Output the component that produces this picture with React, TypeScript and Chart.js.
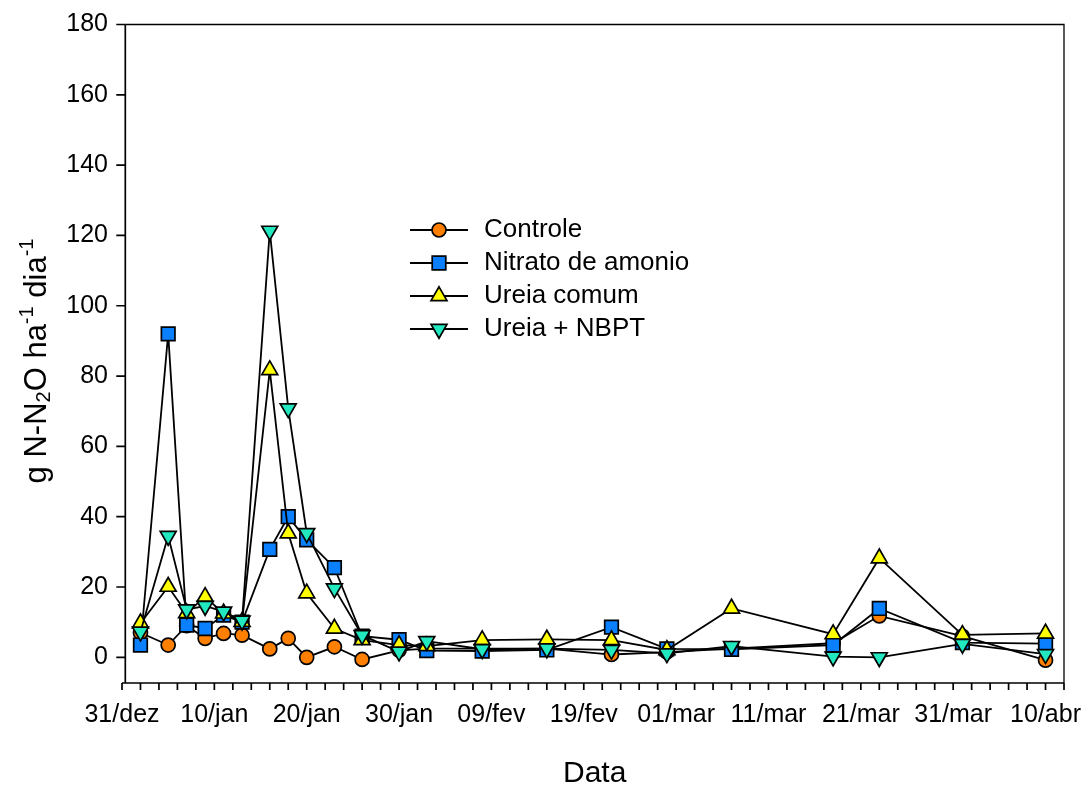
import React, { useEffect, useRef } from 'react';
import { Chart, registerables } from 'chart.js';
import { drawPoint } from 'chart.js/helpers';

Chart.register(...registerables);

const FONT = "'Liberation Sans', Arial, Helvetica, sans-serif";

// Days since 31/dez
const days = [2, 5, 7, 9, 11, 13, 16, 18, 20, 23, 26, 30, 33, 39, 46, 53, 59, 66, 77, 82, 91, 100];
const controle = [7, 3.5, 9, 5.4, 6.8, 6.3, 2.4, 5.4, 0, 3, -0.6, 2, 2.5, 2.5, 2.5, 0.8, 1.5, 2.5, 4, 11.8, 6, -0.8];
const nitrato = [3.5, 92, 9.2, 8.2, 12, 10, 30.7, 40, 33.4, 25.5, 6, 5, 1.9, 1.8, 2.1, 8.6, 2.4, 2.3, 3.5, 13.9, 4.2, 3.9];
const ureia = [9.7, 20.1, 12.6, 17.2, 12.5, 10.1, 81.7, 35.3, 18.2, 8.2, 4.9, 3.5, 3.2, 4.9, 5.1, 4.9, 2.1, 13.9, 6.6, 28.2, 6.4, 6.8];
const nbpt = [7.3, 34.5, 13.6, 14.6, 13, 10.4, 121.3, 70.8, 35.3, 19.6, 6.3, 1.6, 4.6, 2.3, 2.5, 2.1, 1.1, 3.2, 0.2, 0, 3.8, 0.9];

const xTickDays = [0, 10, 20, 30, 40, 50, 60, 70, 80, 90, 100];
const xTickLabels = ['31/dez', '10/jan', '20/jan', '30/jan', '09/fev', '19/fev', '01/mar', '11/mar', '21/mar', '31/mar', '10/abr'];
const yTickValues = [0, 20, 40, 60, 80, 100, 120, 140, 160, 180];

const seriesNames = ['Controle', 'Nitrato de amonio', 'Ureia comum', 'Ureia + NBPT'];
const seriesColors = ['#FF8000', '#0A80FF', '#FFFF00', '#22E8C0'];
const seriesStyles = ['circle', 'rect', 'triangle', 'triangle'];
const seriesRotations = [0, 0, 0, 180];
const seriesRadii = [7, 9.6, 9.2, 9.2];
const seriesValues = [controle, nitrato, ureia, nbpt];

const X_MIN = 0;
const X_MAX = 102;
const Y_MIN = -7.3;
const Y_MAX = 180;
const Y_AXIS_OFFSET = 3.3;

const decorPlugin = {
  id: 'decor',
  beforeDatasetsDraw(chart: any) {
    const { ctx, chartArea, scales } = chart;
    const xs = scales.x;
    const ys = scales.y;
    const axisX = chartArea.left + Y_AXIS_OFFSET;
    ctx.save();
    ctx.strokeStyle = '#000';
    ctx.lineWidth = 1.3;
    ctx.beginPath();
    ctx.moveTo(axisX, chartArea.top);
    ctx.lineTo(chartArea.right, chartArea.top);
    ctx.lineTo(chartArea.right, chartArea.bottom);
    ctx.stroke();
    ctx.lineWidth = 1.7;
    ctx.beginPath();
    ctx.moveTo(axisX, chartArea.top);
    ctx.lineTo(axisX, chartArea.bottom);
    ctx.moveTo(xs.getPixelForValue(xs.min), chartArea.bottom);
    ctx.lineTo(chartArea.right, chartArea.bottom);
    ys.ticks.forEach((t: any) => {
      const py = ys.getPixelForValue(t.value);
      ctx.moveTo(axisX - 9, py);
      ctx.lineTo(axisX, py);
    });
    for (let d = xs.min; d <= xs.max + 1e-6; d += 2) {
      const px = xs.getPixelForValue(d);
      ctx.moveTo(px, chartArea.bottom);
      ctx.lineTo(px, chartArea.bottom + 7);
    }
    ctx.stroke();
    ctx.restore();
  },
  afterDraw(chart: any) {
    const { ctx, chartArea } = chart;
    ctx.save();
    // Legend
    const lx0 = 410, lx1 = 468, lm = 439, lt = 484, ly0 = 230, ldy = 33;
    chart.data.datasets.forEach((ds: any, i: number) => {
      const y = ly0 + i * ldy;
      ctx.strokeStyle = '#000';
      ctx.lineWidth = 1.8;
      ctx.beginPath();
      ctx.moveTo(lx0, y);
      ctx.lineTo(lx1, y);
      ctx.stroke();
      ctx.fillStyle = ds.pointBackgroundColor;
      ctx.strokeStyle = '#000';
      ctx.lineWidth = 1.7;
      drawPoint(ctx, { pointStyle: ds.pointStyle, rotation: ds.pointRotation, radius: ds.pointRadius, borderWidth: 1.7 }, lm, y);
      ctx.fillStyle = '#000';
      ctx.font = `26px ${FONT}`;
      ctx.textAlign = 'left';
      ctx.textBaseline = 'middle';
      ctx.fillText(ds.label, lt, y);
    });
    // X title
    ctx.fillStyle = '#000';
    ctx.font = `30px ${FONT}`;
    ctx.textAlign = 'center';
    ctx.textBaseline = 'middle';
    ctx.fillText('Data', (chartArea.left + Y_AXIS_OFFSET + chartArea.right) / 2, 774);
    // Y title with sub/superscripts
    const segs = [
      { t: 'g N-N', k: 0 },
      { t: '2', k: 1 },
      { t: 'O ha', k: 0 },
      { t: '-1', k: 2 },
      { t: ' dia', k: 0 },
      { t: '-1', k: 2 },
    ];
    const mainFont = `31px ${FONT}`;
    const smallFont = `20px ${FONT}`;
    let total = 0;
    const widths = segs.map((s) => {
      ctx.font = s.k === 0 ? mainFont : smallFont;
      const w = ctx.measureText(s.t).width;
      total += w;
      return w;
    });
    ctx.translate(46, 361);
    ctx.rotate(-Math.PI / 2);
    ctx.textAlign = 'left';
    ctx.textBaseline = 'alphabetic';
    let x = -total / 2;
    segs.forEach((s, i) => {
      ctx.font = s.k === 0 ? mainFont : smallFont;
      const dy = s.k === 1 ? 4 : s.k === 2 ? -13 : 0;
      ctx.fillText(s.t, x, dy);
      x += widths[i];
    });
    ctx.restore();
  },
};

export default function App() {
  const ref = useRef<HTMLCanvasElement>(null);
  useEffect(() => {
    const datasets = seriesNames.map((name, i) => ({
      label: name,
      data: days.map((d, j) => ({ x: d, y: seriesValues[i][j] })),
      borderColor: '#000',
      borderWidth: 1.8,
      backgroundColor: seriesColors[i],
      pointBackgroundColor: seriesColors[i],
      pointBorderColor: '#000',
      pointBorderWidth: 1.7,
      pointRadius: seriesRadii[i],
      pointStyle: seriesStyles[i],
      pointRotation: seriesRotations[i],
      tension: 0,
      fill: false,
      clip: false,
      order: 4 - i,
    }));
    const chart = new Chart(ref.current as HTMLCanvasElement, {
      type: 'line',
      data: { datasets } as any,
      options: {
        responsive: false,
        animation: false,
        devicePixelRatio: 1,
        layout: { padding: { top: 24.5, right: 20, left: 0, bottom: 0 } },
        plugins: { legend: { display: false }, tooltip: { enabled: false } },
        scales: {
          x: {
            type: 'linear',
            min: X_MIN,
            max: X_MAX,
            grid: { display: false, drawTicks: false },
            border: { display: false },
            afterBuildTicks: (s: any) => {
              s.ticks = xTickDays.map((v) => ({ value: v }));
            },
            afterFit: (s: any) => {
              s.height = 104;
              s.paddingLeft = 0;
              s.paddingRight = 0;
            },
            ticks: {
              autoSkip: false,
              maxRotation: 0,
              minRotation: 0,
              padding: 17,
              color: '#000',
              font: { family: FONT, size: 25 },
              callback: (v: any) => xTickLabels[xTickDays.indexOf(Number(v))] ?? '',
            },
          },
          y: {
            type: 'linear',
            min: Y_MIN,
            max: Y_MAX,
            grid: { display: false, drawTicks: false },
            border: { display: false },
            afterBuildTicks: (s: any) => {
              s.ticks = yTickValues.map((v) => ({ value: v }));
            },
            afterFit: (s: any) => {
              s.width = 122;
              s.paddingTop = 0;
              s.paddingBottom = 0;
            },
            ticks: {
              padding: 14,
              color: '#000',
              font: { family: FONT, size: 25 },
              callback: (v: any) => String(v),
            },
          },
        },
      } as any,
      plugins: [decorPlugin],
    });
    return () => chart.destroy();
  }, []);
  return (
    <div style={{ position: 'absolute', left: 0, top: 0, width: 1084, height: 787, background: '#fff' }}>
      <canvas ref={ref} width={1084} height={787} style={{ display: 'block', width: 1084, height: 787 }} />
    </div>
  );
}
